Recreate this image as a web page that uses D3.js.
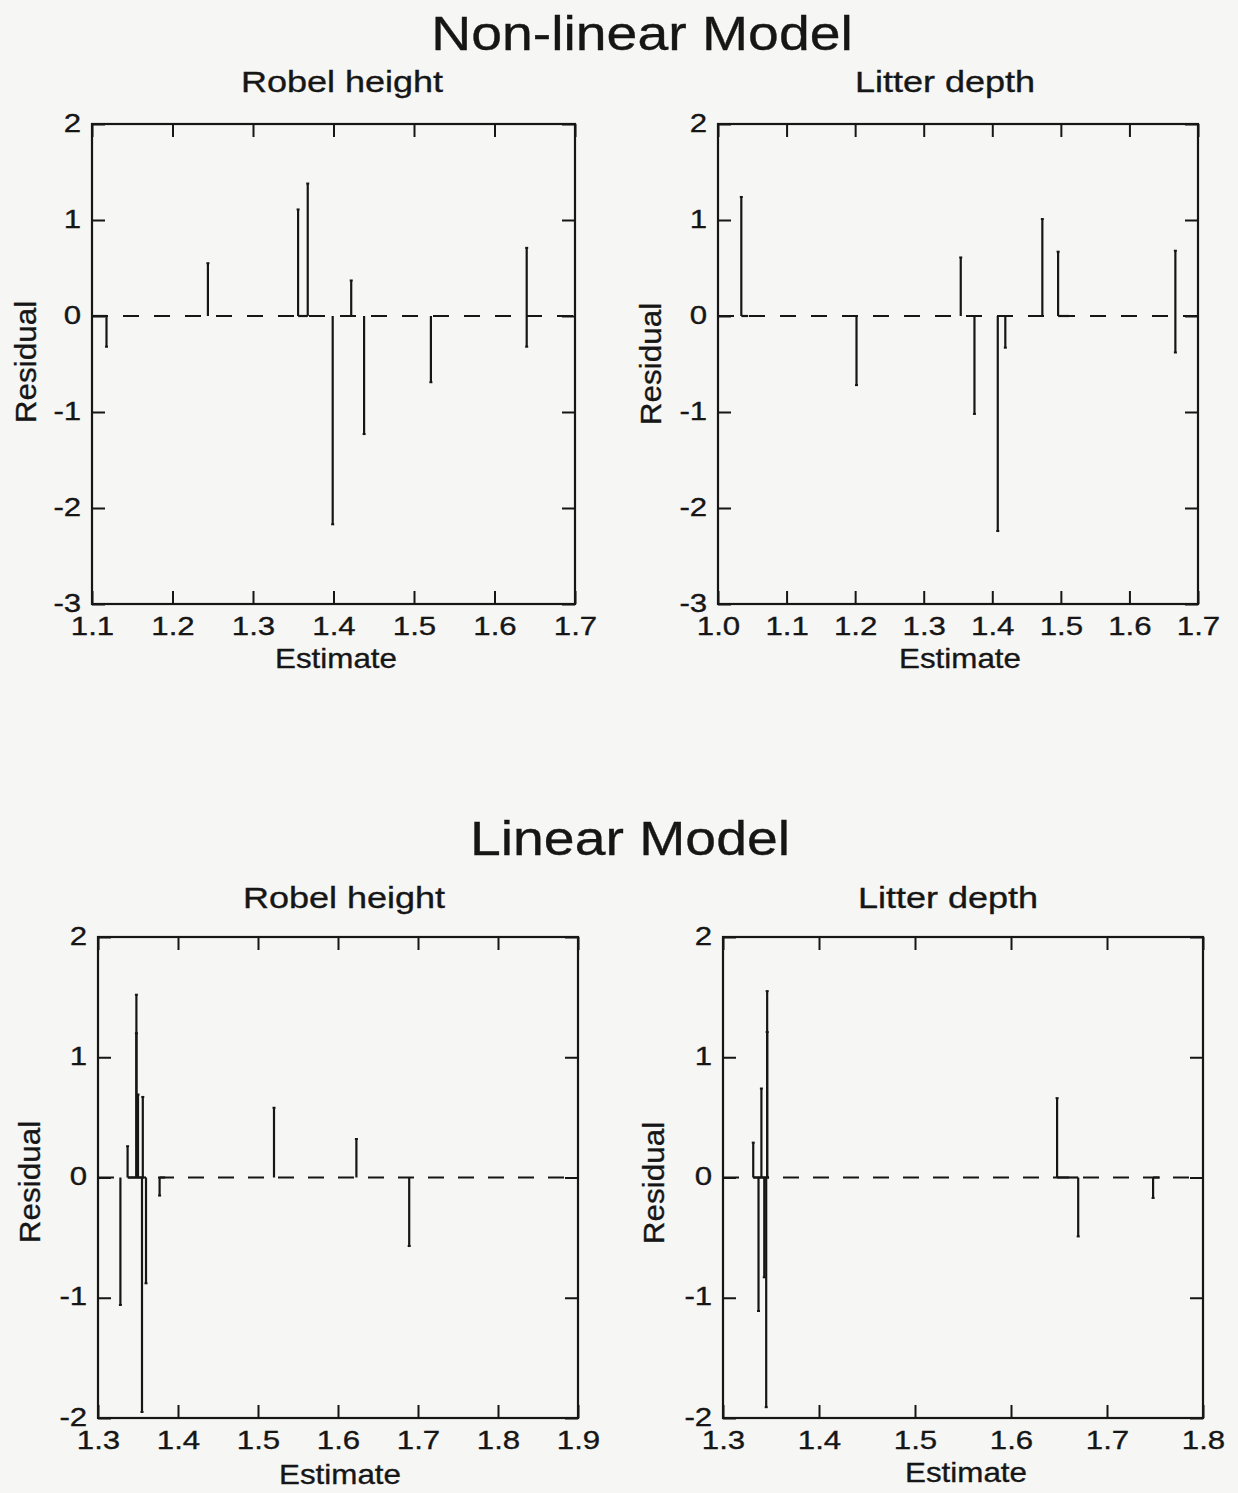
<!DOCTYPE html>
<html>
<head>
<meta charset="utf-8">
<script src="https://cdn.jsdelivr.net/npm/d3@7"></script>
<style>
  html, body { margin: 0; padding: 0; background: #f6f6f4; }
  svg { display: block; }
  text { font-family: "Liberation Sans", Arial, sans-serif; fill: #161616; stroke: #161616; stroke-width: 0.35px; }
</style>
</head>
<body>
<svg id="chart" width="1238" height="1493"></svg>
<script>
// ---------------- DATA ----------------
const modelTitles = ["Non-linear Model", "Linear Model"];
const panelTitles = ["Robel height", "Litter depth", "Robel height", "Litter depth"];
const xLabel = "Estimate";
const yLabel = "Residual";

// Non-linear model, Robel height
const nlRobelEst = [1.118, 1.244, 1.356, 1.368, 1.399, 1.422, 1.438, 1.521, 1.640, 1.640];
const nlRobelRes = [-0.32, 0.55, 1.11, 1.38, -2.17, 0.37, -1.23, -0.69, 0.71, -0.32];
const nlRobelBase = [[1.1, 1.118], [1.356, 1.368]];
const nlRobelXTicks = [1.1, 1.2, 1.3, 1.4, 1.5, 1.6, 1.7];
const nlRobelYTicks = [-3, -2, -1, 0, 1, 2];

// Non-linear model, Litter depth
const nlLitterEst = [1.034, 1.202, 1.354, 1.374, 1.408, 1.419, 1.473, 1.496, 1.667, 1.667];
const nlLitterRes = [1.24, -0.72, 0.61, -1.02, -2.24, -0.33, 1.01, 0.67, 0.68, -0.38];
const nlLitterBase = [[1.034, 1.044], [1.496, 1.512]];
const nlLitterXTicks = [1.0, 1.1, 1.2, 1.3, 1.4, 1.5, 1.6, 1.7];
const nlLitterYTicks = [-3, -2, -1, 0, 1, 2];

// Linear model, Robel height
const lRobelEst = [1.328, 1.337, 1.348, 1.348, 1.350, 1.355, 1.356, 1.360, 1.377, 1.520, 1.623, 1.689];
const lRobelRes = [-1.06, 0.26, 1.52, 1.20, 0.69, -1.95, 0.67, -0.88, -0.15, 0.58, 0.32, -0.57];
const lRobelBase = [[1.337, 1.360], [1.377, 1.384]];
const lRobelXTicks = [1.3, 1.4, 1.5, 1.6, 1.7, 1.8, 1.9];
const lRobelYTicks = [-2, -1, 0, 1, 2];

// Linear model, Litter depth
const lLitterEst = [1.3315, 1.337, 1.340, 1.343, 1.345, 1.346, 1.346, 1.648, 1.670, 1.748];
const lLitterRes = [0.29, -1.11, 0.74, -0.83, -1.91, 1.55, 1.21, 0.66, -0.49, -0.17];
const lLitterBase = [[1.3315, 1.348], [1.648, 1.670], [1.748, 1.755]];
const lLitterXTicks = [1.3, 1.4, 1.5, 1.6, 1.7, 1.8];
const lLitterYTicks = [-2, -1, 0, 1, 2];

// ---------------- LAYOUT ----------------
const ink = "#161616";
const svg = d3.select("#chart");

function stretchedText(parent, x, y, str, size, sx, anchor, rot) {
  return parent.append("text")
    .attr("transform", `translate(${x},${y})` + (rot ? ` rotate(${rot})` : "") + ` scale(${sx},1)`)
    .attr("text-anchor", anchor || "middle")
    .style("font-size", size + "px")
    .text(str);
}

const panels = [
  { est: nlRobelEst, res: nlRobelRes, base: nlRobelBase, xt: nlRobelXTicks, yt: nlRobelYTicks,
    box: [92, 124, 575, 604], dash: "16,15", title: panelTitles[0], tx: 342, ty: 92,
    xl: [336, 668], yl: [36, 362] },
  { est: nlLitterEst, res: nlLitterRes, base: nlLitterBase, xt: nlLitterXTicks, yt: nlLitterYTicks,
    box: [718, 124, 1198, 604], dash: "16,15", title: panelTitles[1], tx: 945, ty: 92,
    xl: [960, 668], yl: [661, 364] },
  { est: lRobelEst, res: lRobelRes, base: lRobelBase, xt: lRobelXTicks, yt: lRobelYTicks,
    box: [98, 937, 578, 1418], dash: "16,14", title: panelTitles[2], tx: 344, ty: 908,
    xl: [340, 1484], yl: [40, 1182] },
  { est: lLitterEst, res: lLitterRes, base: lLitterBase, xt: lLitterXTicks, yt: lLitterYTicks,
    box: [723, 937, 1203, 1418], dash: "16,14", title: panelTitles[3], tx: 948, ty: 908,
    xl: [966, 1482], yl: [664, 1183] }
];

const fmtX = d3.format(".1f");
const fmtY = d => String(d);   // plain hyphen-minus as in the original

panels.forEach(p => {
  const [x0, y0, x1, y1] = p.box;
  const x = d3.scaleLinear().domain(d3.extent(p.xt)).range([x0, x1]);
  const y = d3.scaleLinear().domain(d3.extent(p.yt)).range([y1, y0]);
  const g = svg.append("g");
  const tick = 13;

  const bottom = g.append("g").attr("transform", `translate(0,${y1})`)
    .call(d3.axisBottom(x).tickValues(p.xt).tickFormat(fmtX).tickSizeInner(-tick).tickSizeOuter(0).tickPadding(12.5));
  const top = g.append("g").attr("transform", `translate(0,${y0})`)
    .call(d3.axisTop(x).tickValues(p.xt).tickFormat("").tickSizeInner(-tick).tickSizeOuter(0));
  const left = g.append("g").attr("transform", `translate(${x0},0)`)
    .call(d3.axisLeft(y).tickValues(p.yt).tickFormat(fmtY).tickSizeInner(-tick).tickSizeOuter(0).tickPadding(9));
  const right = g.append("g").attr("transform", `translate(${x1},0)`)
    .call(d3.axisRight(y).tickValues(p.yt).tickFormat("").tickSizeInner(-tick).tickSizeOuter(0));
  [bottom, top, left, right].forEach(a => {
    a.select(".domain").remove();
    a.selectAll("line").attr("stroke", ink).attr("stroke-width", 2);
    a.selectAll("text").attr("fill", ink).style("font-family", '"Liberation Sans", Arial, sans-serif')
      .style("font-size", "26px");
  });
  bottom.selectAll("text").attr("transform", "scale(1.2,1)");
  left.selectAll("text").attr("transform", "scale(1.2,1)").attr("dy", "0.27em");

  g.append("rect").attr("x", x0).attr("y", y0).attr("width", x1 - x0).attr("height", y1 - y0)
    .attr("fill", "none").attr("stroke", ink).attr("stroke-width", 2.2);

  g.append("line").attr("x1", x0).attr("x2", x1).attr("y1", y(0)).attr("y2", y(0))
    .attr("stroke", ink).attr("stroke-width", 2.2).attr("stroke-dasharray", p.dash);

  g.selectAll(".base").data(p.base).enter().append("line")
    .attr("x1", d => x(d[0])).attr("x2", d => x(d[1]))
    .attr("y1", y(0)).attr("y2", y(0))
    .attr("stroke", ink).attr("stroke-width", 2.2);

  const pts = p.est.map((e, i) => ({ e, r: p.res[i] }));
  g.selectAll(".spike").data(pts).enter().append("line")
    .attr("x1", d => x(d.e)).attr("x2", d => x(d.e))
    .attr("y1", y(0)).attr("y2", d => y(d.r))
    .attr("stroke", ink).attr("stroke-width", 2.2);
  g.selectAll(".cap").data(pts).enter().append("line")
    .attr("x1", d => x(d.e) - 1.5).attr("x2", d => x(d.e) + 1.5)
    .attr("y1", d => y(d.r)).attr("y2", d => y(d.r))
    .attr("stroke", ink).attr("stroke-width", 2);

  stretchedText(svg, p.tx, p.ty, p.title, 30, 1.2, "middle");
  stretchedText(svg, p.xl[0], p.xl[1], xLabel, 28, 1.12, "middle");
  stretchedText(svg, p.yl[0], p.yl[1], yLabel, 30, 1.05, "middle", -90);
});

stretchedText(svg, 642, 50, modelTitles[0], 49, 1.13, "middle");
stretchedText(svg, 630, 855, modelTitles[1], 49, 1.13, "middle");
</script>
</body>
</html>
